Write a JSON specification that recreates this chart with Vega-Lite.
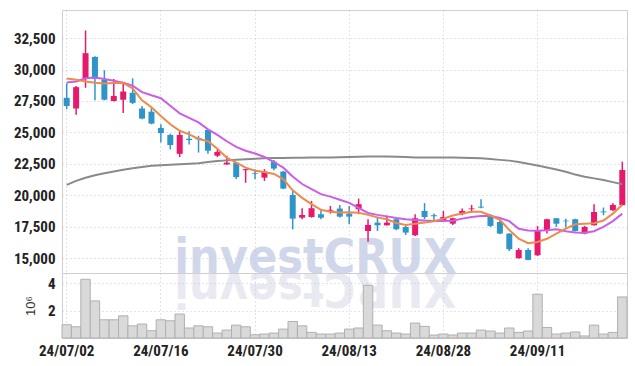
{
  "$schema": "https://vega.github.io/schema/vega-lite/v6.json",
  "padding": {"left": 12, "top": 9, "right": 5, "bottom": 5},
  "background": "white",
  "spacing": 0,
  "bounds": "flush",
  "datasets": {
    "k": [
      {"d":"24/07/02","o":27750,"h":28900,"l":26850,"c":27100,"v":0.97,"m5":29290,"m10":28970,"m60":20830},
      {"d":"24/07/03","o":26900,"h":28700,"l":26400,"c":28600,"v":0.82,"m5":29180,"m10":29050,"m60":21150},
      {"d":"24/07/04","o":29250,"h":33100,"l":28550,"c":31300,"v":4.29,"m5":29050,"m10":29300,"m60":21400},
      {"d":"24/07/05","o":31000,"h":31050,"l":27550,"c":29250,"v":2.71,"m5":28950,"m10":29370,"m60":21600},
      {"d":"24/07/08","o":29200,"h":29950,"l":27550,"c":27600,"v":1.33,"m5":28880,"m10":29250,"m60":21750},
      {"d":"24/07/09","o":27500,"h":29250,"l":27450,"c":27900,"v":1.33,"m5":28920,"m10":29100,"m60":21900},
      {"d":"24/07/10","o":27600,"h":28950,"l":26550,"c":28250,"v":1.62,"m5":28940,"m10":28950,"m60":22030},
      {"d":"24/07/11","o":28150,"h":29300,"l":27250,"c":27350,"v":0.89,"m5":28500,"m10":28720,"m60":22150},
      {"d":"24/07/12","o":26900,"h":27100,"l":26050,"c":26100,"v":1.02,"m5":27550,"m10":28200,"m60":22250},
      {"d":"24/07/15","o":26650,"h":26950,"l":25650,"c":25700,"v":0.53,"m5":27000,"m10":27950,"m60":22350},
      {"d":"24/07/16","o":25350,"h":25650,"l":24200,"c":24950,"v":1.33,"m5":26300,"m10":27720,"m60":22400},
      {"d":"24/07/17","o":24800,"h":24900,"l":23650,"c":24000,"v":1.26,"m5":25650,"m10":27120,"m60":22430},
      {"d":"24/07/18","o":23300,"h":25150,"l":23050,"c":24800,"v":1.75,"m5":25130,"m10":26520,"m60":22470},
      {"d":"24/07/19","o":24500,"h":25100,"l":24050,"c":24400,"v":0.73,"m5":24850,"m10":26150,"m60":22520},
      {"d":"24/07/22","o":24560,"h":24730,"l":23400,"c":24450,"v":0.89,"m5":24480,"m10":25800,"m60":22560},
      {"d":"24/07/23","o":25200,"h":25250,"l":23300,"c":23550,"v":0.82,"m5":24300,"m10":25250,"m60":22650},
      {"d":"24/07/24","o":23150,"h":23650,"l":23050,"c":23450,"v":0.36,"m5":23700,"m10":24800,"m60":22730},
      {"d":"24/07/25","o":22450,"h":23150,"l":22450,"c":22600,"v":0.58,"m5":23000,"m10":24300,"m60":22780},
      {"d":"24/07/26","o":22600,"h":22650,"l":21300,"c":21450,"v":0.94,"m5":22600,"m10":23850,"m60":22820},
      {"d":"24/07/29","o":22000,"h":22100,"l":21000,"c":22080,"v":0.82,"m5":22200,"m10":23550,"m60":22870},
      {"d":"24/07/30","o":21780,"h":22080,"l":21280,"c":21720,"v":0.24,"m5":21950,"m10":23330,"m60":22910},
      {"d":"24/07/31","o":21410,"h":22080,"l":21150,"c":21890,"v":0.29,"m5":21850,"m10":23050,"m60":22940},
      {"d":"24/08/01","o":22680,"h":22800,"l":22000,"c":22130,"v":0.36,"m5":21700,"m10":22650,"m60":22960},
      {"d":"24/08/02","o":21890,"h":21940,"l":20490,"c":20540,"v":0.65,"m5":21300,"m10":22200,"m60":22970},
      {"d":"24/08/05","o":20030,"h":20410,"l":17300,"c":18150,"v":1.21,"m5":20400,"m10":21500,"m60":22980},
      {"d":"24/08/06","o":18230,"h":18980,"l":18100,"c":18440,"v":0.89,"m5":19800,"m10":20900,"m60":22990},
      {"d":"24/08/07","o":18280,"h":19560,"l":18230,"c":18980,"v":0.41,"m5":19300,"m10":20500,"m60":23000},
      {"d":"24/08/08","o":18500,"h":18820,"l":18100,"c":18230,"v":0.29,"m5":18850,"m10":20100,"m60":23000},
      {"d":"24/08/09","o":18780,"h":19160,"l":18550,"c":18850,"v":0.29,"m5":18700,"m10":19900,"m60":23010},
      {"d":"24/08/12","o":18950,"h":19240,"l":18250,"c":18310,"v":0.36,"m5":18630,"m10":19650,"m60":23030},
      {"d":"24/08/13","o":18550,"h":19160,"l":17700,"c":18310,"v":0.65,"m5":18660,"m10":19400,"m60":23050},
      {"d":"24/08/14","o":18900,"h":19740,"l":18500,"c":19300,"v":0.73,"m5":18620,"m10":19000,"m60":23060},
      {"d":"24/08/16","o":17170,"h":18100,"l":16320,"c":17650,"v":3.85,"m5":18450,"m10":18600,"m60":23080},
      {"d":"24/08/19","o":17830,"h":18230,"l":17170,"c":17620,"v":0.94,"m5":18250,"m10":18450,"m60":23080},
      {"d":"24/08/20","o":17620,"h":18370,"l":17600,"c":17830,"v":0.53,"m5":18100,"m10":18330,"m60":23080},
      {"d":"24/08/21","o":18100,"h":18230,"l":17230,"c":17310,"v":0.36,"m5":17800,"m10":18200,"m60":23060},
      {"d":"24/08/22","o":17490,"h":17570,"l":16850,"c":17040,"v":0.29,"m5":17650,"m10":18100,"m60":23040},
      {"d":"24/08/23","o":16830,"h":18500,"l":16770,"c":18180,"v":1.09,"m5":17750,"m10":18050,"m60":23010},
      {"d":"24/08/26","o":18760,"h":19380,"l":18100,"c":18280,"v":0.85,"m5":17850,"m10":18000,"m60":23000},
      {"d":"24/08/27","o":18420,"h":18550,"l":17910,"c":18340,"v":0.22,"m5":17950,"m10":17970,"m60":23000},
      {"d":"24/08/28","o":18020,"h":18760,"l":17970,"c":18280,"v":0.29,"m5":18150,"m10":17970,"m60":23000},
      {"d":"24/08/29","o":17750,"h":18230,"l":17650,"c":18180,"v":0.22,"m5":18400,"m10":17980,"m60":23000},
      {"d":"24/08/30","o":18500,"h":18950,"l":18420,"c":18760,"v":0.36,"m5":18550,"m10":18150,"m60":22990},
      {"d":"24/09/02","o":18900,"h":19240,"l":18630,"c":18960,"v":0.36,"m5":18700,"m10":18280,"m60":22970},
      {"d":"24/09/03","o":19100,"h":19690,"l":18980,"c":19030,"v":0.58,"m5":18700,"m10":18360,"m60":22940},
      {"d":"24/09/04","o":18370,"h":18500,"l":17490,"c":17570,"v":0.51,"m5":18400,"m10":18380,"m60":22880},
      {"d":"24/09/05","o":17890,"h":17970,"l":16910,"c":16960,"v":0.36,"m5":18050,"m10":18200,"m60":22820},
      {"d":"24/09/06","o":16960,"h":16980,"l":15580,"c":15720,"v":0.73,"m5":17250,"m10":17950,"m60":22760},
      {"d":"24/09/09","o":15000,"h":15800,"l":14980,"c":15660,"v":0.41,"m5":16550,"m10":17350,"m60":22650},
      {"d":"24/09/10","o":15660,"h":15800,"l":14850,"c":14870,"v":0.51,"m5":16200,"m10":17200,"m60":22520},
      {"d":"24/09/11","o":15240,"h":17570,"l":15180,"c":17170,"v":3.2,"m5":16300,"m10":17180,"m60":22380},
      {"d":"24/09/12","o":17230,"h":18150,"l":16960,"c":18100,"v":0.77,"m5":16550,"m10":17230,"m60":22220},
      {"d":"24/09/13","o":18180,"h":18200,"l":17490,"c":17750,"v":0.29,"m5":16950,"m10":17300,"m60":22050},
      {"d":"24/09/19","o":17990,"h":18150,"l":17440,"c":17940,"v":0.36,"m5":17350,"m10":17150,"m60":21880},
      {"d":"24/09/20","o":18100,"h":18150,"l":17120,"c":17170,"v":0.44,"m5":17700,"m10":17040,"m60":21650},
      {"d":"24/09/23","o":16960,"h":17570,"l":16910,"c":17490,"v":0.15,"m5":17750,"m10":17030,"m60":21480},
      {"d":"24/09/24","o":17620,"h":19300,"l":17600,"c":18680,"v":0.94,"m5":17780,"m10":17150,"m60":21350},
      {"d":"24/09/25","o":18720,"h":19030,"l":18420,"c":18650,"v":0.29,"m5":18000,"m10":17500,"m60":21220},
      {"d":"24/09/26","o":18820,"h":19380,"l":18760,"c":19240,"v":0.41,"m5":18550,"m10":17950,"m60":21050},
      {"d":"24/09/27","o":19220,"h":22680,"l":19200,"c":22020,"v":3.0,"m5":19250,"m10":18550,"m60":20880}
    ],
    "wm": [{"d":"24/08/07","p":13830,"t":"investCRUX","r":"XURCtsevni"}]
  },
  "vconcat": [
    {
      "width": 565,
      "height": 263,
      "encoding": {
        "x": {
          "field": "d", "type": "ordinal", "sort": null,
          "scale": {"type": "band", "paddingInner": 0, "paddingOuter": 0,
            "domain": ["24/07/02","24/07/03","24/07/04","24/07/05","24/07/08","24/07/09","24/07/10","24/07/11","24/07/12","24/07/15","24/07/16","24/07/17","24/07/18","24/07/19","24/07/22","24/07/23","24/07/24","24/07/25","24/07/26","24/07/29","24/07/30","24/07/31","24/08/01","24/08/02","24/08/05","24/08/06","24/08/07","24/08/08","24/08/09","24/08/12","24/08/13","24/08/14","24/08/16","24/08/19","24/08/20","24/08/21","24/08/22","24/08/23","24/08/26","24/08/27","24/08/28","24/08/29","24/08/30","24/09/02","24/09/03","24/09/04","24/09/05","24/09/06","24/09/09","24/09/10","24/09/11","24/09/12","24/09/13","24/09/19","24/09/20","24/09/23","24/09/24","24/09/25","24/09/26","24/09/27"]},
          "axis": {"values": ["24/07/02","24/07/16","24/07/30","24/08/13","24/08/28","24/09/11"], "labels": false, "ticks": false, "domain": false, "grid": true, "title": null, "bandPosition": 0.5}
        }
      },
      "layer": [
        {
          "data": {"name": "wm"},
          "mark": {"type": "text", "font": "DejaVu Sans Condensed", "fontWeight": "bold", "fontSize": 48, "baseline": "alphabetic", "align": "center", "dx": 4, "color": "#c6cee5", "opacity": 0.8},
          "encoding": {
            "y": {"field": "p", "type": "quantitative", "scale": {"domain": [13830, 34730], "nice": false, "zero": false},
              "axis": {"values": [15000,17500,20000,22500,25000,27500,30000,32500], "format": ",.0f", "grid": true, "title": null, "minExtent": 45, "maxExtent": 45}},
            "text": {"field": "t"}
          }
        },
        {
          "data": {"name": "wm"},
          "mark": {"type": "text", "font": "DejaVu Sans Condensed", "fontWeight": "bold", "fontSize": 48, "baseline": "alphabetic", "align": "center", "angle": 180, "dx": -4, "color": "#dcdde8", "opacity": 0.6},
          "encoding": {
            "y": {"field": "p", "type": "quantitative", "scale": {"domain": [13830, 34730], "nice": false, "zero": false},
              "axis": {"values": [15000,17500,20000,22500,25000,27500,30000,32500], "format": ",.0f", "grid": true, "title": null, "minExtent": 45, "maxExtent": 45}},
            "text": {"field": "r"}
          }
        },
        {
          "data": {"name": "k"},
          "mark": {"type": "rule", "strokeWidth": 1.5},
          "encoding": {
            "y": {"field": "l", "type": "quantitative", "scale": {"domain": [13830, 34730], "nice": false, "zero": false},
              "axis": {"values": [15000,17500,20000,22500,25000,27500,30000,32500], "format": ",.0f", "grid": true, "title": null, "minExtent": 45, "maxExtent": 45}},
            "y2": {"field": "h"},
            "color": {"condition": {"test": "datum.c > datum.o", "value": "#e6196b"}, "value": "#2f95c8"}
          }
        },
        {
          "data": {"name": "k"},
          "mark": {"type": "bar", "width": 6},
          "encoding": {
            "y": {"field": "o", "type": "quantitative", "scale": {"domain": [13830, 34730], "nice": false, "zero": false},
              "axis": {"values": [15000,17500,20000,22500,25000,27500,30000,32500], "format": ",.0f", "grid": true, "title": null, "minExtent": 45, "maxExtent": 45}},
            "y2": {"field": "c"},
            "color": {"condition": {"test": "datum.c > datum.o", "value": "#e6196b"}, "value": "#2f95c8"}
          }
        },
        {
          "data": {"name": "k"},
          "mark": {"type": "line", "color": "#8a8a8a", "strokeWidth": 2},
          "encoding": {"y": {"field": "m60", "type": "quantitative", "scale": {"domain": [13830, 34730], "nice": false, "zero": false},
              "axis": {"values": [15000,17500,20000,22500,25000,27500,30000,32500], "format": ",.0f", "grid": true, "title": null, "minExtent": 45, "maxExtent": 45}}}
        },
        {
          "data": {"name": "k"},
          "mark": {"type": "line", "color": "#ca5ee8", "strokeWidth": 2},
          "encoding": {"y": {"field": "m10", "type": "quantitative", "scale": {"domain": [13830, 34730], "nice": false, "zero": false},
              "axis": {"values": [15000,17500,20000,22500,25000,27500,30000,32500], "format": ",.0f", "grid": true, "title": null, "minExtent": 45, "maxExtent": 45}}}
        },
        {
          "data": {"name": "k"},
          "mark": {"type": "line", "color": "#ee8a4c", "strokeWidth": 2},
          "encoding": {"y": {"field": "m5", "type": "quantitative", "scale": {"domain": [13830, 34730], "nice": false, "zero": false},
              "axis": {"values": [15000,17500,20000,22500,25000,27500,30000,32500], "format": ",.0f", "grid": true, "title": null, "minExtent": 45, "maxExtent": 45}}}
        }
      ]
    },
    {
      "width": 565,
      "height": 65,
      "data": {"name": "k"},
      "mark": {"type": "bar", "fill": "#d9d9d9", "stroke": "#b0b0b0", "strokeWidth": 1},
      "encoding": {
        "x": {
          "field": "d", "type": "ordinal", "sort": null,
          "scale": {"type": "band", "paddingInner": 0, "paddingOuter": 0},
          "axis": {"values": ["24/07/02","24/07/16","24/07/30","24/08/13","24/08/28","24/09/11"], "labelAngle": 0, "labelPadding": 5, "ticks": false, "domain": false, "grid": true, "title": null, "bandPosition": 0.5}
        },
        "y": {
          "field": "v", "type": "quantitative",
          "scale": {"domain": [0, 4.75], "nice": false},
          "axis": {"values": [2, 4], "title": "10⁶", "titleFont": "Liberation Sans, DejaVu Sans", "titleFontWeight": "normal", "titleFontSize": 13, "titleColor": "#333", "titlePadding": 5, "minExtent": 20, "maxExtent": 20, "grid": true}
        }
      }
    }
  ],
  "config": {
    "view": {"stroke": "#cfcfcf", "strokeWidth": 1},
    "axis": {
      "gridColor": "#c3c7dc", "gridDash": [1, 3], "gridWidth": 1,
      "labelFont": "Roboto Condensed, Liberation Sans Narrow, Liberation Sans",
      "labelFontWeight": "bold", "labelFontSize": 15, "labelColor": "#222",
      "ticks": false, "domain": false
    },
    "axisY": {"labelPadding": 7}
  }
}
